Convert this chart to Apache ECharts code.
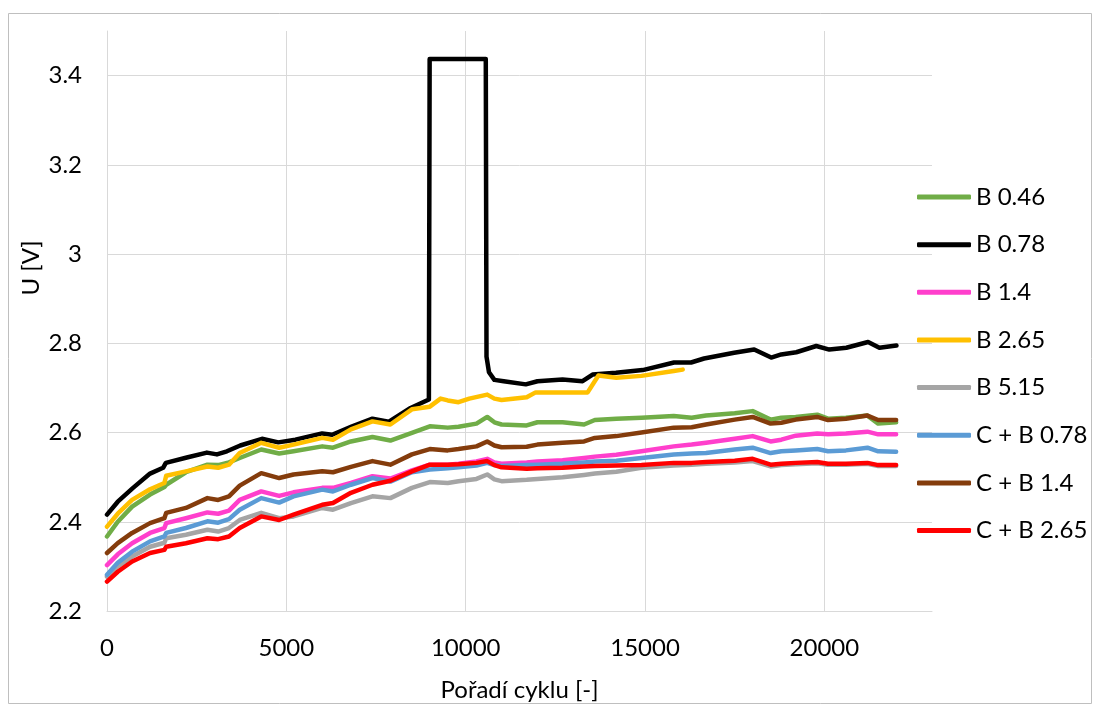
<!DOCTYPE html>
<html><head><meta charset="utf-8">
<script src="https://cdn.jsdelivr.net/npm/echarts@6/dist/echarts.min.js"></script>
<style>html,body{margin:0;padding:0;background:#fff}#c{width:1099px;height:707px}</style>
</head><body><div id="c"></div>
<script>
// ---- data ----
const seriesNames = ['B 0.46','B 0.78','B 1.4','B 2.65','B 5.15','C + B 0.78','C + B 1.4','C + B 2.65'];
const xTickLabels = ['0','5000','10000','15000','20000'];
const yTickLabels = ['2.2','2.4','2.6','2.8','3','3.2','3.4'];

const cycles = [0,300,700,1200,1600,1650,2200,2800,3100,3400,3700,4300,4800,5200,6000,6300,6800,7400,7900,8500,9000,9500,9800,10300,10600,10800,11000,11700,12000,12700,13300,13600,14200,14900,15800,16300,16700,17500,18000,18500,18800,19200,19800,20100,20600,21200,21500,22000];

const b046 = [2.367,2.400,2.434,2.461,2.478,2.483,2.511,2.528,2.527,2.533,2.543,2.562,2.553,2.558,2.569,2.566,2.580,2.590,2.582,2.599,2.614,2.611,2.613,2.620,2.635,2.623,2.618,2.616,2.623,2.623,2.618,2.628,2.631,2.633,2.637,2.633,2.638,2.643,2.648,2.629,2.633,2.635,2.640,2.631,2.633,2.638,2.620,2.623];
const b14 = [2.303,2.327,2.352,2.375,2.386,2.397,2.408,2.421,2.418,2.425,2.449,2.468,2.458,2.466,2.476,2.476,2.487,2.502,2.497,2.515,2.528,2.528,2.530,2.535,2.541,2.533,2.530,2.533,2.535,2.538,2.543,2.546,2.550,2.558,2.569,2.573,2.577,2.586,2.592,2.580,2.584,2.593,2.598,2.596,2.598,2.602,2.596,2.596];
const b515 = [2.277,2.300,2.322,2.344,2.353,2.363,2.371,2.382,2.378,2.386,2.404,2.420,2.408,2.412,2.431,2.427,2.442,2.457,2.453,2.476,2.489,2.487,2.491,2.496,2.506,2.495,2.491,2.494,2.496,2.500,2.505,2.508,2.512,2.521,2.526,2.528,2.530,2.533,2.536,2.524,2.527,2.529,2.531,2.528,2.528,2.530,2.525,2.525];
const cb078 = [2.281,2.308,2.333,2.356,2.367,2.375,2.386,2.401,2.398,2.406,2.427,2.453,2.443,2.457,2.472,2.468,2.483,2.498,2.490,2.511,2.517,2.520,2.522,2.526,2.532,2.527,2.525,2.527,2.528,2.530,2.533,2.535,2.537,2.543,2.551,2.553,2.554,2.562,2.566,2.554,2.558,2.560,2.563,2.558,2.560,2.566,2.558,2.557];
const cb14 = [2.330,2.352,2.375,2.397,2.408,2.420,2.431,2.453,2.449,2.457,2.481,2.509,2.498,2.506,2.513,2.511,2.523,2.536,2.528,2.551,2.563,2.560,2.563,2.569,2.580,2.571,2.567,2.568,2.573,2.577,2.580,2.588,2.592,2.600,2.611,2.612,2.618,2.629,2.635,2.620,2.622,2.629,2.635,2.628,2.631,2.638,2.628,2.628];
const cb265 = [2.266,2.288,2.311,2.330,2.337,2.344,2.352,2.363,2.361,2.367,2.386,2.412,2.404,2.416,2.438,2.442,2.465,2.483,2.492,2.513,2.528,2.528,2.529,2.532,2.536,2.527,2.522,2.519,2.520,2.521,2.524,2.525,2.526,2.527,2.532,2.532,2.534,2.537,2.541,2.528,2.530,2.532,2.534,2.530,2.530,2.532,2.527,2.527];

const b265Cycles = [0,300,700,1200,1600,1650,2200,2800,3100,3400,3700,4300,4800,5200,6000,6300,6800,7400,7900,8500,9000,9300,9500,9800,10100,10600,10800,11000,11700,11950,13400,13700,14200,14900,15800,16050];
const b265 = [2.389,2.418,2.449,2.473,2.487,2.503,2.513,2.524,2.521,2.528,2.554,2.577,2.566,2.573,2.588,2.584,2.607,2.625,2.618,2.652,2.658,2.676,2.672,2.668,2.676,2.685,2.676,2.673,2.679,2.690,2.690,2.728,2.723,2.727,2.738,2.741];

const b078Cycles = [0,300,726,1200,1564,1640,2226,2785,3064,3343,3715,4321,4776,5251,5997,6276,6835,7400,7850,8463,8974,8990,8995,10560,10580,10650,10800,11060,11675,12000,12700,13258,13537,14188,14934,15808,16283,16646,17484,18043,18517,18797,19216,19774,20137,20612,21218,21534,22009];
const b078 = [2.416,2.445,2.476,2.508,2.521,2.532,2.544,2.555,2.551,2.558,2.571,2.586,2.578,2.584,2.598,2.595,2.614,2.631,2.624,2.655,2.674,2.678,3.437,3.437,2.770,2.735,2.718,2.715,2.708,2.715,2.719,2.715,2.730,2.734,2.740,2.757,2.757,2.766,2.779,2.786,2.768,2.775,2.780,2.794,2.786,2.790,2.803,2.790,2.795];

const colors = ['#70AD47','#000000','#FF3FCC','#FFC000','#A5A5A5','#5B9BD5','#843C0C','#FF0000'];

// ---- build ----
function zip(xs, ys){ return xs.map((x,i)=>[x, ys[i]]); }
const seriesData = [
  zip(cycles, b046),
  zip(b078Cycles, b078),
  zip(cycles, b14),
  zip(b265Cycles, b265),
  zip(cycles, b515),
  zip(cycles, cb078),
  zip(cycles, cb14),
  zip(cycles, cb265)
];

const FONT = 'Lato, "Open Sans", sans-serif';
const chart = echarts.init(document.getElementById('c'), null, {renderer:'canvas'});
const option = {
  animation: false,
  backgroundColor: '#ffffff',
  color: colors,
  grid: {left:107, right:167, top:31, bottom:96, containLabel:false},
  xAxis: {
    type:'value', min:0, max:23000, interval:5000,
    axisLine:{show:true, lineStyle:{color:'#d9d9d9', width:1}},
    axisTick:{show:false},
    splitLine:{show:true, showMaxLine:false, lineStyle:{color:'#d9d9d9', width:1}},
    axisLabel:{showMaxLabel:false, margin:25, color:'#000', fontFamily:FONT, fontSize:24,
      formatter: v => { const i = Math.round(v/5000); return (Math.abs(v - i*5000) < 1e-6 && xTickLabels[i] !== undefined) ? xTickLabels[i] : ''; }},
    name:'Pořadí cyklu [-]', nameLocation:'middle', nameGap:67,
    nameTextStyle:{color:'#000', fontFamily:FONT, fontSize:24}
  },
  yAxis: {
    type:'value', min:2.2, max:3.5, interval:0.2,
    axisLine:{show:true, lineStyle:{color:'#d9d9d9', width:1}},
    axisTick:{show:false},
    splitLine:{show:true, showMaxLine:false, lineStyle:{color:'#d9d9d9', width:1}},
    axisLabel:{showMaxLabel:false, margin:25, color:'#000', fontFamily:FONT, fontSize:24,
      formatter: v => { const i = Math.round((v-2.2)/0.2); return (Math.abs(v-(2.2+i*0.2))<1e-6 && yTickLabels[i]!==undefined) ? yTickLabels[i] : ''; }}
  },
  legend: {
    orient:'vertical', left:917, top:185, padding:0, itemWidth:54, itemHeight:5, itemGap:23.65,
    icon:'roundRect',
    textStyle:{fontFamily:FONT, fontSize:24, color:'#000', lineHeight:24},
    data: seriesNames
  },
  graphic: [
    {type:'rect', silent:true, shape:{x:8.5, y:13.5, width:1083, height:690}, style:{fill:'none', stroke:'#bfbfbf', lineWidth:1}},
    {type:'text', silent:true, x:31, y:268, rotation:Math.PI/2, style:{text:'U [V]', fill:'#000', font:'24px Lato', align:'center', verticalAlign:'middle'}}
  ],
  series: seriesNames.map((n,i)=>({
    name:n, type:'line', data:seriesData[i], showSymbol:false, symbol:'none', smooth:false,
    lineStyle:{width:4.5, color:colors[i], cap:'round', join:'round'},
    itemStyle:{color:colors[i]}
  }))
};
chart.setOption(option);
</script></body></html>
